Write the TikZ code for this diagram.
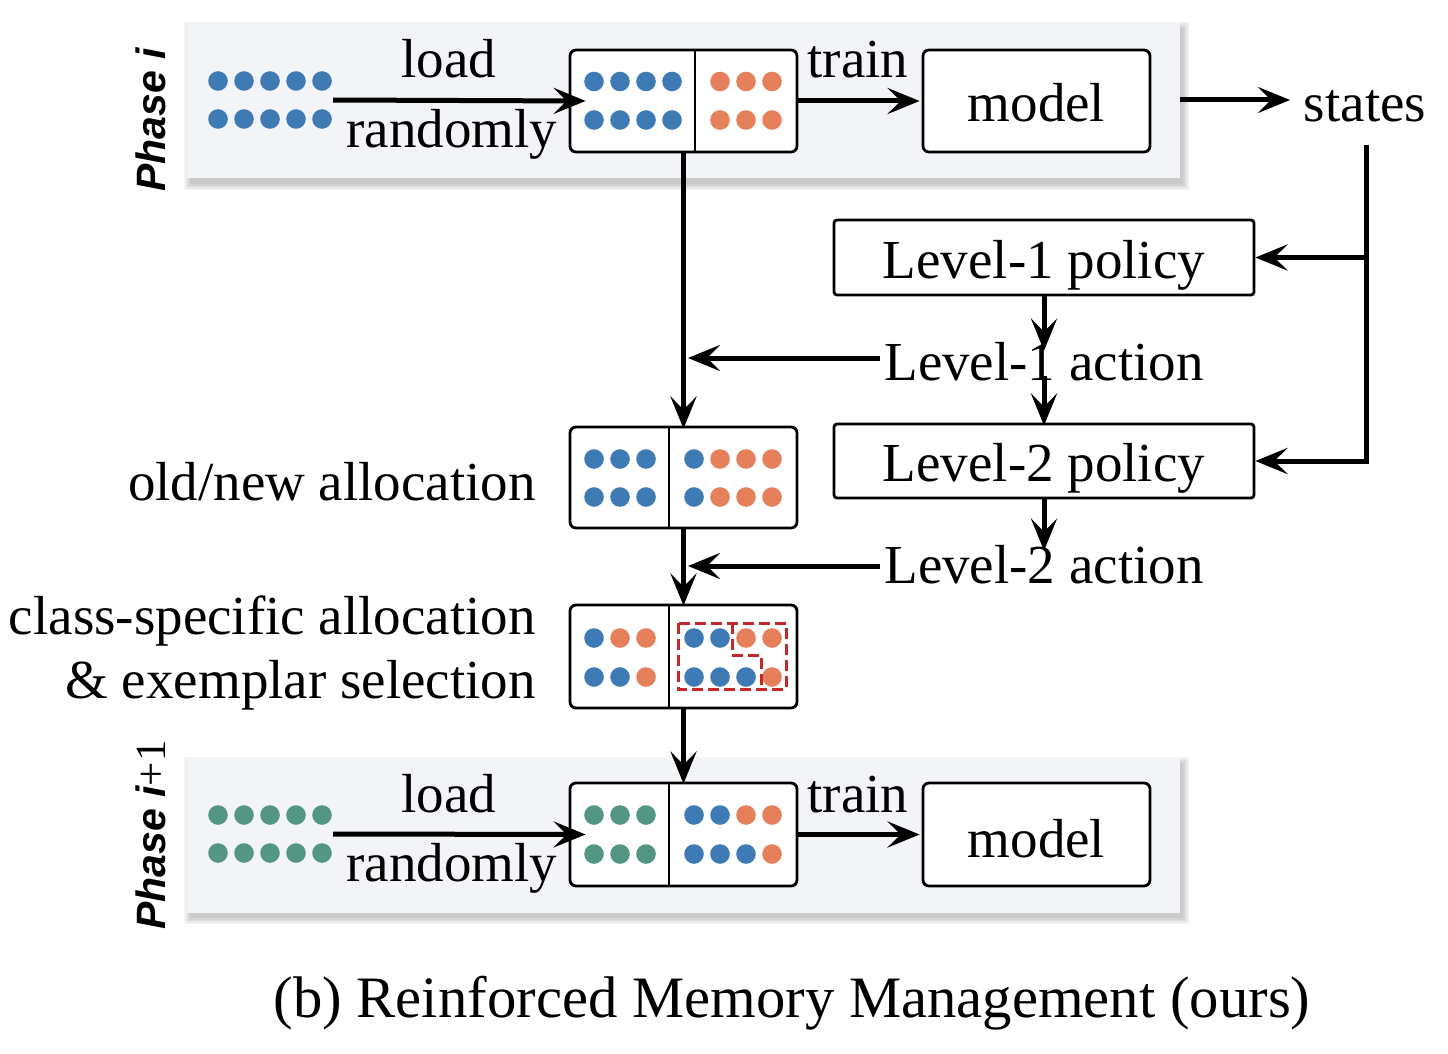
\documentclass[tikz,border=0pt]{standalone}
\usepackage{fontspec}
\setmainfont{Liberation Serif}
\newfontfamily\phasefont{Liberation Sans}
\usetikzlibrary{arrows.meta}
\definecolor{dblue}{RGB}{62,122,180}
\definecolor{dorange}{RGB}{229,128,90}
\definecolor{dgreen}{RGB}{84,150,132}
\definecolor{panelgray}{RGB}{243,244,247}
\definecolor{dred}{RGB}{196,40,40}
\newcommand{\dotrow}[3]{\foreach \xx in {#3} {\fill[#1] (\xx,#2) circle (9.8pt);}}
\begin{document}
\begin{tikzpicture}[x=1pt,y=-1pt,
  arr/.style={line width=5pt, -{Stealth[length=32pt,width=26pt,inset=13pt]}},
  plain/.style={line width=5pt},
  mbox/.style={draw, line width=2.8pt, rounded corners=6pt, fill=white, minimum width=227pt, minimum height=102pt, inner sep=0pt},
  pbox/.style={draw, line width=2.8pt, rounded corners=3pt, fill=white, minimum width=420pt, minimum height=75pt, inner sep=0pt},
  lbl/.style={font=\fontsize{55}{60}\selectfont, inner sep=0pt},
  panel/.style={fill=panelgray, draw=none, minimum width=993pt, minimum height=156pt, inner sep=0pt},
  phase/.style={rotate=90, anchor=base west, inner sep=0pt, font=\phasefont\bfseries\itshape\fontsize{41}{45}\selectfont},
  divider/.style={line width=2.2pt},
  sel/.style={draw=dred, line width=3pt, dash pattern=on 11pt off 5pt}
]
\useasboundingbox (0,0) rectangle (1448,1054);
\fill[white] (0,0) rectangle (1448,1054);

% shadows of panels
\foreach \s in {0,1.5,3,4.5,6} {
  \fill[black, opacity=0.045] (187+3-\s,22+6-\s) rectangle (1180+3+\s,178+6+\s);
  \fill[black, opacity=0.045] (187+3-\s,757+6-\s) rectangle (1180+3+\s,912+6+\s);
}
\node[panel] (p1) at (683.5,100) {};
\node[panel] (p2) at (683.5,834.5) {};

% phase labels
\node[phase] (ph1) at (165,192) {Phase i};
\node[phase] (ph2) at (165,930) {Phase i{\rmfamily\mdseries\upshape\fontsize{43}{45}\selectfont +1}};

% ---------- top row ----------
\dotrow{dblue}{81}{218,244,270,296,322}
\dotrow{dblue}{119}{218,244,270,296,322}
\coordinate (s1) at (333,100);

\node[mbox] (b1) at (683.5,101) {};
\draw[divider] (695,50) -- (695,152);
\dotrow{dblue}{81.5}{594,620,646,672}
\dotrow{dblue}{120}{594,620,646,672}
\dotrow{dorange}{81.5}{720,746,772}
\dotrow{dorange}{120}{720,746,772}

\node[mbox] (m1) at (1036.5,101) {};
\node[lbl, anchor=base] (m1t) at (1036.5,122) {model};

\node[lbl, anchor=base] (ld1) at (449,78) {load};
\node[lbl, anchor=base] (rn1) at (452,147) {randomly};
\node[lbl, anchor=base] (tr1) at (858,78) {train};
\node[lbl, anchor=base, inner xsep=0pt] (st) at (1365,122) {states};

\coordinate (stin) at (1290,100);
\draw[arr] (s1) -- ([xshift=17pt]b1.west);
\draw[arr] (b1.east) -- ([xshift=-2pt]m1.west);
\draw[arr] (p1.east |- stin) -- (stin);

% ---------- policies ----------
\node[pbox] (L1) at (1044,257.5) {};
\node[lbl, anchor=base] (L1t) at (1044,278) {Level-1 policy};
\node[lbl, anchor=base, inner xsep=4pt] (L1A) at (1044,380) {Level-1 action};
\node[pbox, minimum height=74pt] (L2) at (1044,461) {};
\node[lbl, anchor=base] (L2t) at (1044,481) {Level-2 policy};
\node[lbl, anchor=base, inner xsep=4pt] (L2A) at (1044,583) {Level-2 action};

\coordinate (st1) at (1366,145);
\draw[plain] (st1) |- ([xshift=20pt]L2.east);
\draw[arr] (st1 |- L2.east) -- ([xshift=0pt]L2.east);
\draw[arr] (st1 |- L1.east) -- (L1.east);

\draw[arr] (L1.south) -- ([yshift=-9pt]L1A.north);
\draw[arr] ([yshift=5pt]L1A.south) -- ([yshift=-3pt]L2.north);
\draw[arr] (L2.south) -- ([yshift=-6pt]L2A.north);

% ---------- middle boxes ----------
\node[mbox, minimum height=101pt] (b2) at (683.5,477.5) {};
\draw[divider] (669,427) -- (669,528);
\dotrow{dblue}{459}{594,620,646,694}
\dotrow{dblue}{497}{594,620,646,694}
\dotrow{dorange}{459}{720,746,772}
\dotrow{dorange}{497}{720,746,772}
\node[lbl, anchor=base east] (oldnew) at (536,500) {old/new allocation};

\node[mbox, minimum height=103pt] (b3) at (683.5,656.5) {};
\draw[divider] (669,605) -- (669,708);
\dotrow{dblue}{638}{594,694,720}
\dotrow{dorange}{638}{620,646,746,772}
\dotrow{dblue}{677}{594,620,694,720,746}
\dotrow{dorange}{677}{646,772}
\draw[sel] (678,623) rectangle (786,689);
\draw[sel] (732,623) -- (732,655) -- (761,655) -- (761,689);
\node[lbl, anchor=base east] (cs1) at (536,634) {class-specific allocation};
\node[lbl, anchor=base east] (cs2) at (536,698) {\& exemplar selection};

% ---------- bottom row ----------
\dotrow{dgreen}{815}{218,244,270,296,322}
\dotrow{dgreen}{853}{218,244,270,296,322}
\coordinate (s2) at (333,834);

\node[mbox, minimum height=103pt] (b4) at (683.5,834.5) {};
\draw[divider] (669,783) -- (669,886);
\dotrow{dgreen}{815}{594,620,646}
\dotrow{dgreen}{854}{594,620,646}
\dotrow{dblue}{815}{694,720}
\dotrow{dorange}{815}{746,772}
\dotrow{dblue}{854}{694,720,746}
\dotrow{dorange}{854}{772}

\node[mbox, minimum height=103pt] (m2) at (1036.5,834.5) {};
\node[lbl, anchor=base] (m2t) at (1036.5,857) {model};
\node[lbl, anchor=base] (ld2) at (449,812) {load};
\node[lbl, anchor=base] (rn2) at (452,881) {randomly};
\node[lbl, anchor=base] (tr2) at (858,812) {train};

\draw[arr] (s2) -- ([xshift=17pt]b4.west);
\draw[arr] (b4.east) -- ([xshift=-2pt]m2.west);

% vertical flow
\coordinate (j1) at (688,358);
\coordinate (j2) at (688,566);
\draw[arr] (b1.south) -- ([yshift=-3pt]b2.north);
\draw[arr] (b2.south) -- ([yshift=-2pt]b3.north);
\draw[arr] (b3.south) -- ([yshift=-2pt]b4.north);
\draw[arr] (L1A.west |- j1) -- (j1);
\draw[arr] (L2A.west |- j2) -- (j2);

% caption
\node[inner sep=0pt, anchor=base, font=\fontsize{58.7}{64}\selectfont] (cap) at (792,1017) {(b) Reinforced Memory Management (ours)};
\end{tikzpicture}
\end{document}
